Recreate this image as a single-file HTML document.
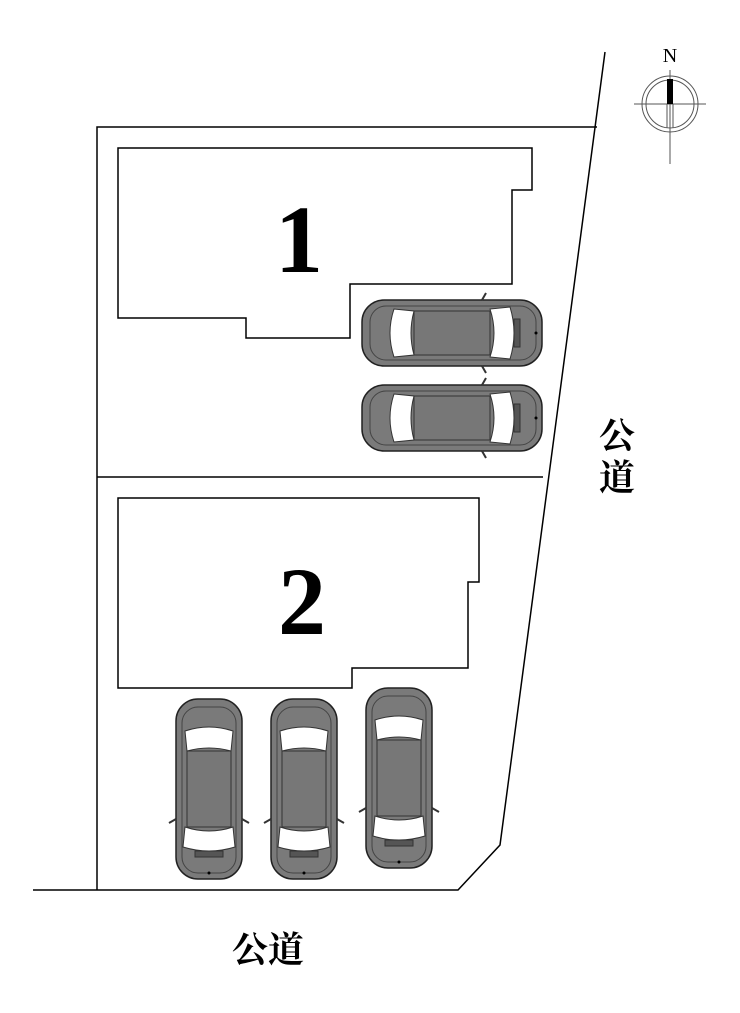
<!DOCTYPE html>
<html><head><meta charset="utf-8"><style>html,body{margin:0;padding:0;background:#fff}svg{display:block}</style></head>
<body>
<svg width="740" height="1013" viewBox="0 0 740 1013" xmlns="http://www.w3.org/2000/svg">
<defs>
<g id="car">
<rect x="-90" y="-33" width="180" height="66" rx="22" fill="#7a7a7a" stroke="#222" stroke-width="1.5"/>
<rect x="-82" y="-27" width="166" height="54" rx="16" fill="none" stroke="#444" stroke-width="1"/>
<path d="M-58,-24 Q-66,0 -58,24 L-38,22 Q-44,0 -38,-22 Z" fill="#fff" stroke="#333"/>
<path d="M38,-24 Q46,0 38,24 L58,26 Q66,0 58,-26 Z" fill="#fff" stroke="#333"/>
<rect x="-38" y="-22" width="76" height="44" fill="#777" stroke="#333"/>
<rect x="62" y="-14" width="6" height="28" fill="#555" stroke="#333"/>
<circle cx="84" cy="0" r="1.5" fill="#000"/>
<path d="M30,-33 L34,-40 M30,33 L34,40" stroke="#333" stroke-width="2"/>
</g>
</defs>
<g fill="none" stroke="#000" stroke-width="1.5">
<path d="M97,890 L97,127 L597,127"/>
<path d="M605,52 L500,845 L458,890 L33,890"/>
<path d="M97,477 L543,477"/>
<path d="M118,148 L532,148 L532,190 L512,190 L512,284 L350,284 L350,338 L246,338 L246,318 L118,318 Z"/>
<path d="M118,498 L479,498 L479,582 L468,582 L468,668 L352,668 L352,688 L118,688 Z"/>
</g>
<use href="#car" transform="translate(452,333)"/>
<use href="#car" transform="translate(452,418)"/>
<use href="#car" transform="translate(209,789) rotate(90)"/>
<use href="#car" transform="translate(304,789) rotate(90)"/>
<use href="#car" transform="translate(399,778) rotate(90)"/>
<text x="299" y="272" font-family="Liberation Serif, serif" font-size="96" font-weight="bold" text-anchor="middle">1</text>
<text x="302" y="634" font-family="Liberation Serif, serif" font-size="96" font-weight="bold" text-anchor="middle">2</text>
<text x="617" y="448" font-family="Liberation Serif, 'Noto Serif CJK SC', serif" font-size="36" font-weight="bold" text-anchor="middle">公</text>
<text x="617" y="490" font-family="Liberation Serif, 'Noto Serif CJK SC', serif" font-size="36" font-weight="bold" text-anchor="middle">道</text>
<text x="268" y="962" font-family="Liberation Serif, 'Noto Serif CJK SC', serif" font-size="36" font-weight="bold" text-anchor="middle">公道</text>
<text x="670" y="62" font-family="Liberation Serif, serif" font-size="20" text-anchor="middle">N</text>
<g stroke="#555" fill="none" stroke-width="1">
<circle cx="670" cy="104" r="28"/><circle cx="670" cy="104" r="24"/>
<line x1="634" y1="104" x2="706" y2="104"/><line x1="670" y1="70" x2="670" y2="164"/>
<line x1="667" y1="104" x2="667" y2="128"/><line x1="673" y1="104" x2="673" y2="128"/>
</g>
<rect x="667" y="79" width="6" height="25" fill="#000"/>
</svg>
</body></html>
